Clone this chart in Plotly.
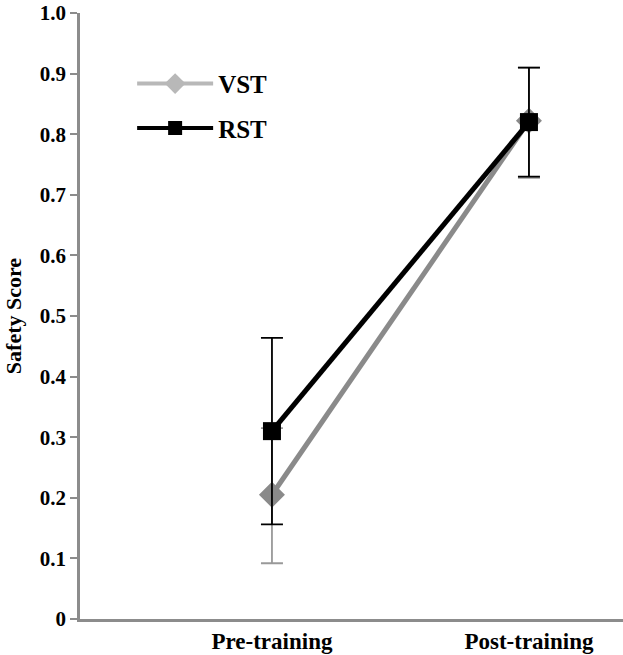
import plotly.graph_objects as go

categories = ["Pre-training", "Post-training"]
vst_mean = [0.205, 0.822]
vst_err_plus = [0.110, 0.088]
vst_err_minus = [0.113, 0.094]
rst_mean = [0.310, 0.820]
rst_err = [0.154, 0.090]
ytick_vals = [0, 0.1, 0.2, 0.3, 0.4, 0.5, 0.6, 0.7, 0.8, 0.9, 1.0]
ytick_text = ["0", "0.1", "0.2", "0.3", "0.4", "0.5", "0.6", "0.7", "0.8", "0.9", "1.0"]

xpos = list(range(len(categories)))
font = "Liberation Serif"

fig = go.Figure()
fig.add_trace(go.Scatter(
    x=xpos, y=vst_mean, mode="lines+markers", showlegend=False,
    line=dict(color="#8a8a8a", width=5),
    marker=dict(symbol="diamond", size=20, color="#8a8a8a"),
    error_y=dict(type="data", array=vst_err_plus, arrayminus=vst_err_minus,
                 color="#999999", thickness=1.8, width=11),
))
fig.add_trace(go.Scatter(
    x=xpos, y=rst_mean, mode="lines+markers", showlegend=False,
    line=dict(color="black", width=5),
    marker=dict(symbol="square", size=18, color="black"),
    error_y=dict(type="data", array=rst_err, color="black", thickness=1.8, width=11),
))
# legend entries
fig.add_trace(go.Scatter(
    x=[None], y=[None], mode="lines+markers", name="VST",
    line=dict(color="#b8b8b8", width=4),
    marker=dict(symbol="diamond", size=17, color="#b8b8b8"),
    legendgroup="v", legendrank=1,
))
fig.add_trace(go.Scatter(
    x=[None], y=[None], mode="lines+markers", name="RST",
    line=dict(color="black", width=4),
    marker=dict(symbol="square", size=14, color="black"),
    legendgroup="r", legendrank=2,
))

fig.update_layout(
    width=623, height=655,
    margin=dict(l=80, r=0, t=13, b=36),
    plot_bgcolor="white", paper_bgcolor="white",
    font=dict(family=font, size=20, color="black"),
    showlegend=True,
    legend=dict(
        x=0.096, y=0.921, xanchor="left", yanchor="top",
        itemwidth=76, tracegroupgap=9,
        font=dict(family=font, size=25, color="black", weight="bold"),
        bgcolor="rgba(0,0,0,0)",
    ),
    xaxis=dict(
        range=[-0.747, 1.366], tickvals=xpos, ticktext=categories,
        showline=True, linecolor="#8c8c8c", linewidth=2.5, ticks="",
        showgrid=False, zeroline=False, automargin=False,
        tickfont=dict(family=font, size=23, color="black", weight="bold"),
    ),
    yaxis=dict(
        range=[0, 1.0], tickvals=ytick_vals, ticktext=ytick_text,
        showline=True, linecolor="#8c8c8c", linewidth=2.5,
        ticks="outside", ticklen=7, tickwidth=2, tickcolor="#8c8c8c",
        showgrid=False, zeroline=False, automargin=False,
        tickfont=dict(family=font, size=21, color="black", weight="bold"),
        title=dict(text="Safety Score", standoff=13,
                   font=dict(family=font, size=22, color="black", weight="bold")),
    ),
)

fig.write_html("out.html", config={"displayModeBar": False},
               post_script="document.body.style.margin='0';")
